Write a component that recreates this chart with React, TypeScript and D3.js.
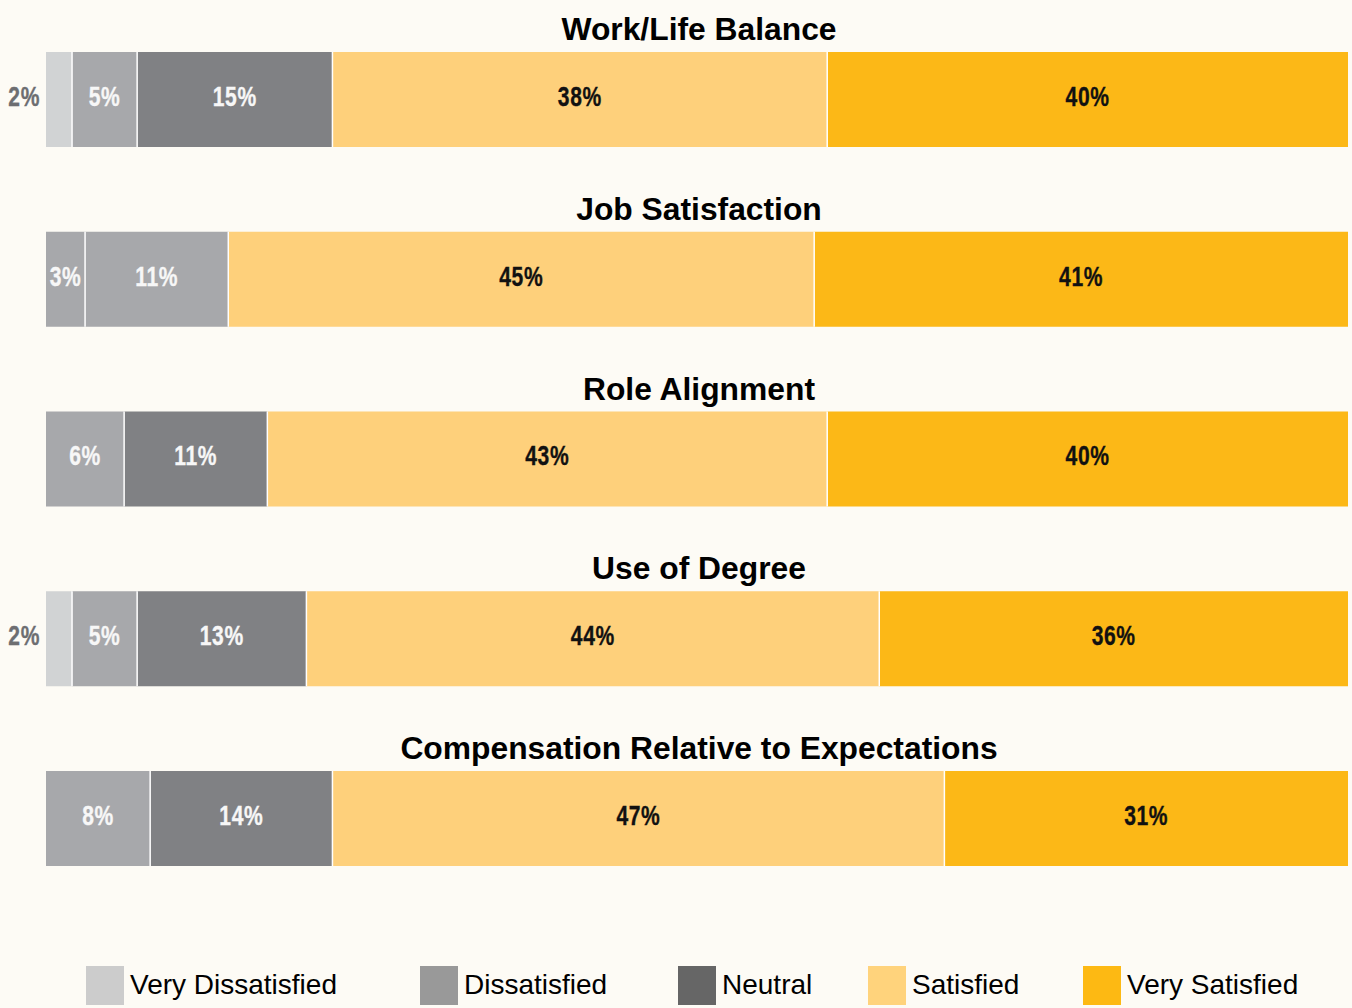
import React, { useEffect } from "react";
import * as d3 from "d3";

// ---- data ----
const categories = [
  "Work/Life Balance",
  "Job Satisfaction",
  "Role Alignment",
  "Use of Degree",
  "Compensation Relative to Expectations",
];
const seriesKeys = ["Very Dissatisfied", "Dissatisfied", "Neutral", "Satisfied", "Very Satisfied"];
const veryDissatisfied = [2, 0, 0, 2, 0];
const dissatisfied = [5, 3, 6, 5, 8];
const neutral = [15, 11, 11, 13, 14];
const satisfied = [38, 45, 43, 44, 47];
const verySatisfied = [40, 41, 40, 36, 31];
// In the source, the Job Satisfaction neutral segment is drawn in the Dissatisfied shade
const neutralShadeOverride = ["", "Dissatisfied", "", "", ""];

// ---- styles ----
const barColors: Record<string, string> = {
  "Very Dissatisfied": "#d1d3d4",
  Dissatisfied: "#a7a8ab",
  Neutral: "#808184",
  Satisfied: "#fed07b",
  "Very Satisfied": "#fcb817",
};
const legendColors: Record<string, string> = {
  "Very Dissatisfied": "#cccccc",
  Dissatisfied: "#999999",
  Neutral: "#666666",
  Satisfied: "#ffd37c",
  "Very Satisfied": "#fdb913",
};
const labelColors: Record<string, string> = {
  "Very Dissatisfied": "#f7f7f7",
  Dissatisfied: "#f7f7f7",
  Neutral: "#f7f7f7",
  Satisfied: "#111111",
  "Very Satisfied": "#111111",
};
const legendX = [86, 420, 678, 868, 1083];

const W = 1352;
const H = 1008;
const BG = "#fdfbf5";
const FONT = "'Liberation Sans', Arial, Helvetica, sans-serif";
const CONDENSE = 0.78;

export default function App() {
  useEffect(() => {
    document.body.style.margin = "0";
    document.body.style.background = BG;
  }, []);

  const rows = categories.map((c, i) => ({
    category: c,
    "Very Dissatisfied": veryDissatisfied[i],
    Dissatisfied: dissatisfied[i],
    Neutral: neutral[i],
    Satisfied: satisfied[i],
    "Very Satisfied": verySatisfied[i],
  }));
  const stacked = d3.stack<any>().keys(seriesKeys)(rows);

  const x = d3.scaleLinear().domain([0, 100]).range([46, 1348]);
  const y = d3
    .scaleBand<string>()
    .domain(categories)
    .range([52, 866])
    .paddingInner(0.4715)
    .paddingOuter(0);
  const bh = y.bandwidth();

  return (
    <div style={{ position: "absolute", left: 0, top: 0, width: W, height: H, background: BG }}>
      <svg width={W} height={H} style={{ display: "block", background: BG }}>
        {categories.map((c) => (
          <text
            key={"t" + c}
            x={(x(0) + x(100)) / 2 + 2}
            y={(y(c) as number) - 12}
            textAnchor="middle"
            fontFamily={FONT}
            fontWeight="bold"
            fontSize={31.8}
            fill="#000"
          >
            {c}
          </text>
        ))}
        {stacked.map((s) =>
          s.map((d, i) => {
            const v = d[1] - d[0];
            if (v <= 0) return null;
            const key = s.key === "Neutral" && neutralShadeOverride[i] ? neutralShadeOverride[i] : s.key;
            const x0 = x(d[0]);
            const x1 = x(d[1]);
            const top = y(categories[i]) as number;
            return (
              <rect
                key={s.key + i}
                x={x0}
                y={top}
                width={x1 - x0}
                height={bh}
                fill={barColors[key]}
              />
            );
          })
        )}
        {stacked.map((s) =>
          s.map((d, i) => {
            const v = d[1] - d[0];
            if (v <= 0 || d[0] === 0) return null;
            const top = y(categories[i]) as number;
            return (
              <line
                key={"sep" + s.key + i}
                x1={x(d[0])}
                x2={x(d[0])}
                y1={top}
                y2={top + bh}
                stroke="#ffffff"
                strokeWidth={1.5}
              />
            );
          })
        )}
        {stacked.map((s) =>
          s.map((d, i) => {
            const v = d[1] - d[0];
            if (v <= 0) return null;
            const key = s.key === "Neutral" && neutralShadeOverride[i] ? neutralShadeOverride[i] : s.key;
            const x0 = x(d[0]);
            const x1 = x(d[1]);
            const cy = (y(categories[i]) as number) + bh / 2 - 3;
            const outside = x1 - x0 < 30;
            const lx = outside ? x0 - 6 : (x0 + x1) / 2;
            const fill = outside ? "#6d6e71" : labelColors[key];
            return (
              <text
                key={"l" + s.key + i}
                transform={`translate(${lx},${cy}) scale(${CONDENSE},1)`}
                dominantBaseline="central"
                textAnchor={outside ? "end" : "middle"}
                fontFamily={FONT}
                fontWeight="bold"
                fontSize={27}
                letterSpacing={0.8}
                fill={fill}
                stroke={fill}
                strokeWidth={0.35}
              >
                {v}%
              </text>
            );
          })
        )}
        {seriesKeys.map((k, i) => (
          <g key={"lg" + k} transform={`translate(${legendX[i]},966)`}>
            <rect x={0} y={0} width={38} height={39} fill={legendColors[k]} />
            <text x={44} y={28} fontFamily={FONT} fontSize={28} fill="#000">
              {k}
            </text>
          </g>
        ))}
      </svg>
    </div>
  );
}
